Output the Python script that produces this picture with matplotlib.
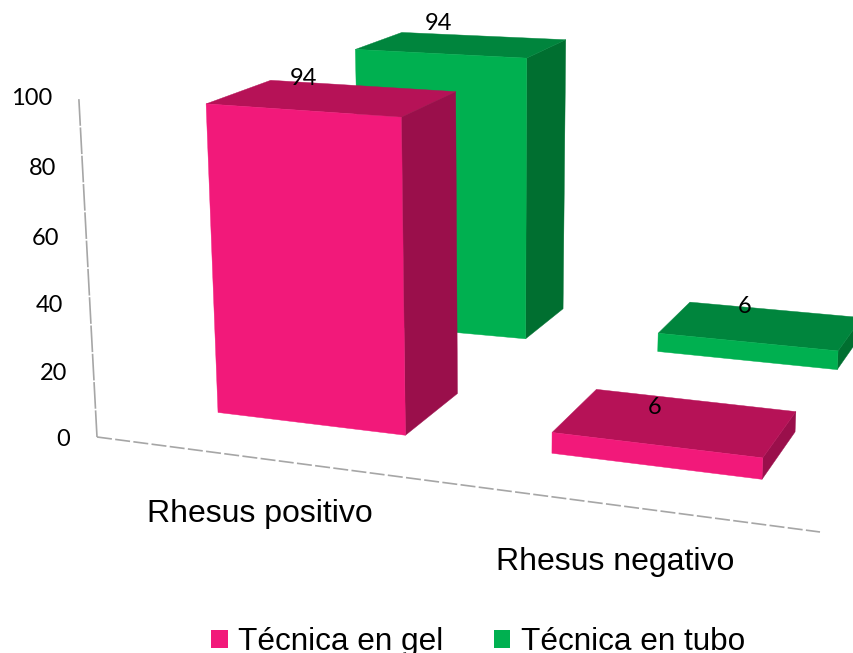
import matplotlib
matplotlib.use("Agg")
import matplotlib.pyplot as plt
from matplotlib.patches import Polygon, Patch

# ---- data ----
categories = ["Rhesus positivo", "Rhesus negativo"]
series_names = ["Técnica en gel", "Técnica en tubo"]
gel_values = [94, 6]
tubo_values = [94, 6]
y_ticks = [0, 20, 40, 60, 80, 100]

# ---- style ----
pink = dict(front="#F2197A", top="#B61257", side="#9A0F4B")
green = dict(front="#00B050", top="#00853D", side="#006F30")
axis_colour = "#A6A6A6"
TICK_FONT = "Lato"
TEXT_FONT = "Liberation Sans"

# ---- layout: oblique perspective of the 3D box ----
W, H = 854, 653
gel_span = [(0.0928, 0.364), (0.576, 0.88)]        # along the category axis (0..1)
tubo_span = [(0.0928, 0.364), (0.582, 0.878)]
pink_depth = (0.87, 1.87)
green_depth = (3.18, 3.90)
ORIGIN = (97.0, 437.0)
X_END = (820.0, 532.0)
tick_nudge = [3, 5, 5, 5, 3, 1]


def project(u, v, z):
    """Map category position u, depth v and value z to figure pixels."""
    ax_x = ORIGIN[0] + (X_END[0] - ORIGIN[0]) * u
    ax_y = ORIGIN[1] + (X_END[1] - ORIGIN[1]) * u
    px = ax_x + v * (65.4 - 36.75 * u)
    py = ax_y + v * (-37.1 - 13.5 * u + 2.0 * u * u)
    scale = 3.372 + 0.00441 * (py - 435.0) + 0.012 * v
    return px + 0.00045 * z * (px - 500.0), py - scale * z


fig = plt.figure(figsize=(W / 100, H / 100), dpi=100, facecolor="white")
ax = fig.add_axes([0, 0, 1, 1])
ax.set_xlim(0, W)
ax.set_ylim(H, 0)
ax.axis("off")


def draw_bar(span, depth, value, colours):
    u0, u1 = span
    v0, v1 = depth
    front = [project(u0, v0, 0), project(u1, v0, 0), project(u1, v0, value), project(u0, v0, value)]
    side = [project(u1, v0, 0), project(u1, v1, 0), project(u1, v1, value), project(u1, v0, value)]
    top = [project(u0, v0, value), project(u1, v0, value), project(u1, v1, value), project(u0, v1, value)]
    for pts, key in ((side, "side"), (top, "top"), (front, "front")):
        ax.add_patch(Polygon(pts, closed=True, facecolor=colours[key],
                             edgecolor=colours[key], linewidth=0.3))


# axis lines
wall = [project(0, 0, 0), project(0, 0, y_ticks[-1])]
floor = [project(0, 0, 0), project(1, 0, 0)]
ax.plot(*zip(*wall), color=axis_colour, lw=1.2, dashes=(16, 1))
ax.plot(*zip(*floor), color=axis_colour, lw=1.2, dashes=(9, 2))

for t, nudge in zip(y_ticks, tick_nudge):
    x, y = project(0, 0, t)
    ax.text(x - 26.5, y + nudge - 1, str(t), ha="right", va="center", fontsize=17,
            family=TICK_FONT, color="black")

# bars, back to front
for span, val in zip(tubo_span, tubo_values):
    draw_bar(span, green_depth, val, green)
for span, val in zip(gel_span, gel_values):
    draw_bar(span, pink_depth, val, pink)

# value labels, placed from the middle of each bar's rear top edge
gel_label_shift = [(-60, -7), (-42, 7)]
tubo_label_shift = [(-45, -12), (-31, -3)]
for values, spans, depth, shifts in ((tubo_values, tubo_span, green_depth, tubo_label_shift),
                                     (gel_values, gel_span, pink_depth, gel_label_shift)):
    for span, val, (dx, dy) in zip(spans, values, shifts):
        x, y = project(sum(span) / 2, depth[1], val)
        ax.text(x + dx, y + dy, str(val), ha="center", va="center", fontsize=17,
                family=TICK_FONT, color="black")

# category labels
cat_label_shift = [(-2, 55), (-8, 56)]
for name, span, (dx, dy) in zip(categories, gel_span, cat_label_shift):
    x, y = project(sum(span) / 2, 0, 0)
    ax.text(x + dx, y + dy, name, ha="center", va="center", fontsize=23,
            family=TEXT_FONT, color="black")

# legend
handles = [Patch(facecolor=pink["front"], edgecolor="none", label=series_names[0]),
           Patch(facecolor=green["front"], edgecolor="none", label=series_names[1])]
ax.legend(handles=handles, ncol=2, frameon=False, loc="center",
          bbox_to_anchor=(478, 642), bbox_transform=ax.transData,
          prop=dict(family=TEXT_FONT, size=22.7), borderpad=0, borderaxespad=0,
          handlelength=0.53, handleheight=0.53, handletextpad=0.33, columnspacing=1.6)

fig.savefig("out.png", dpi=100, facecolor="white")
